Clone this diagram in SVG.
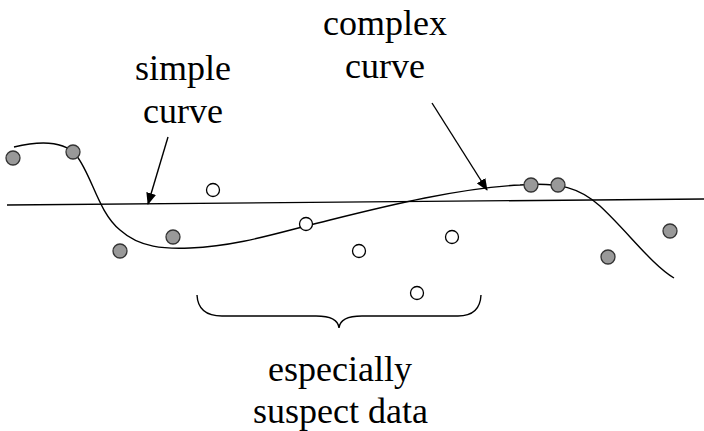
<svg xmlns="http://www.w3.org/2000/svg" width="704" height="431" viewBox="0 0 704 431">
<defs>
<marker id="ah" markerWidth="12" markerHeight="10" refX="11" refY="5" orient="auto" markerUnits="userSpaceOnUse">
<path d="M0,0 L12,5 L0,10 z" fill="#000"/>
</marker>
</defs>
<rect width="704" height="431" fill="#fff"/>
<g id="connectors" fill="none" stroke="#000" stroke-width="1.4">
<line x1="7" y1="205" x2="704" y2="199"/>
<path id="complex-curve" d="M14,147 C35,142 62,139 76,155 C92,175 98,212 120,230 C140,248 165,249 190,248 C240,246 280,232 330,220 C390,205 460,188 520,185 C560,182 580,188 600,206 C628,232 652,265 674,278"/>
<line x1="168" y1="137" x2="148" y2="204" marker-end="url(#ah)"/>
<line x1="432" y1="103" x2="487" y2="190" marker-end="url(#ah)"/>
<path id="brace" d="M197,295 Q198,316 222,316 L316,316 Q338,316 339,328 Q340,316 362,316 L458,316 Q480,316 481,295"/>
</g>
<g id="points-fit" fill="#999" stroke="#333" stroke-width="1.3">
<circle cx="13" cy="158" r="7"/>
<circle cx="73" cy="152" r="7"/>
<circle cx="120" cy="251" r="7"/>
<circle cx="173" cy="237" r="7"/>
<circle cx="531" cy="185" r="7"/>
<circle cx="558" cy="185" r="7"/>
<circle cx="608" cy="257" r="7"/>
<circle cx="670" cy="231" r="7"/>
</g>
<g id="points-open" fill="#fff" stroke="#000" stroke-width="1.3">
<circle cx="213" cy="190" r="6.5"/>
<circle cx="306" cy="224" r="6.5"/>
<circle cx="359" cy="251" r="6.5"/>
<circle cx="452" cy="237" r="6.5"/>
<circle cx="417" cy="293" r="6.5"/>
</g>
<g id="label-simple">
<text x="135" y="80" font-family="Liberation Serif" font-size="36">simple</text>
<text x="143" y="123" font-family="Liberation Serif" font-size="36">curve</text>
</g>
<g id="label-complex">
<text x="323" y="35" font-family="Liberation Serif" font-size="36">complex</text>
<text x="345" y="78" font-family="Liberation Serif" font-size="36">curve</text>
</g>
<g id="label-suspect">
<text x="268" y="381" font-family="Liberation Serif" font-size="36">especially</text>
<text x="253" y="423" font-family="Liberation Serif" font-size="36">suspect data</text>
</g>
</svg>
